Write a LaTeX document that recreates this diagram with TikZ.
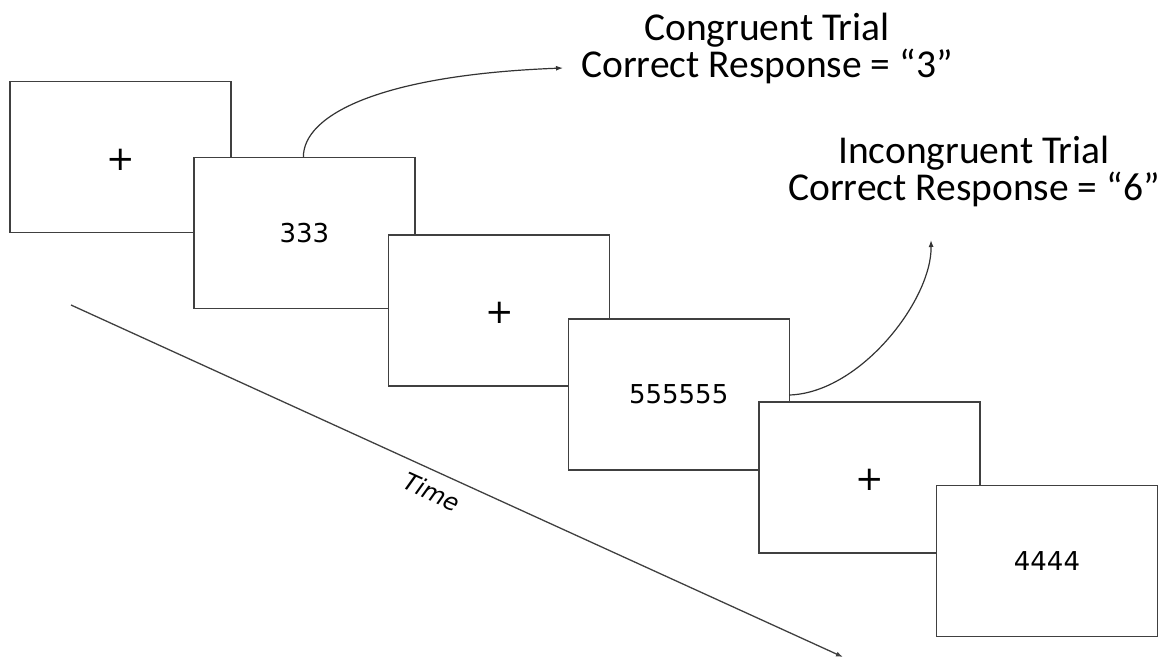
\documentclass[tikz,border=0pt]{standalone}
\usepackage{fontspec}
\setmainfont{Carlito}
\newfontfamily\digitfont{DejaVu Sans}
\usetikzlibrary{arrows.meta}

\tikzset{
  screen/.style={draw=black!75, line width=1.3pt, fill=white,
    minimum width=221pt, minimum height=151pt, inner sep=0pt, outer sep=0pt},
  stimtext/.style={font=\digitfont\fontsize{26}{30}\selectfont},
  fixtext/.style={font=\digitfont\fontsize{34}{36}\selectfont},
  respline/.style={draw=black!80, line width=1.2pt,
    -{Latex[length=7pt,width=5pt]}},
  label/.style={align=center, inner sep=0pt,
    font=\fontsize{39.5}{37}\selectfont},
}

\begin{document}
\begin{tikzpicture}[x=1pt, y=-1pt]
  \useasboundingbox (0,0) rectangle (1168,659);

  % time axis
  \coordinate (tstart) at (71,305);
  \coordinate (tend) at (843,657);
  \draw[draw=black!75, line width=1.3pt, -{Latex[length=7pt,width=5pt]}] (tstart) -- (tend);
  \node[font=\digitfont\itshape\fontsize{24}{26}\selectfont, rotate=-24.4]
    (time) at (432,492) {Time};

  % sequence of screens
  \node[screen] (s1) at (120.5,156.7) {};
  \node[fixtext] at (121,160) {+};
  \node[screen] (s2) at (304.4,232.7) {};
  \node[stimtext] at (s2) {333};
  \node[screen] (s3) at (499.2,310.5) {};
  \node[fixtext] at (500,313) {+};
  \node[screen] (s4) at (678.7,394.5) {};
  \node[stimtext] at (s4) {555555};
  \node[screen] (s5) at (869.4,477.5) {};
  \node[fixtext] at (870,480) {+};
  \node[screen] (s6) at (1047,560.9) {};
  \node[stimtext] at (s6) {4444};

  % response labels (anchored at the baseline of the second line)
  \node[label, anchor=base] (cong) at (767,77)
    {Congruent Trial\\Correct Response = “3”};
  \node[label, anchor=base] (incong) at (974,200)
    {Incongruent Trial\\Correct Response = “6”};

  % arrows from stimuli to the correct responses
  \coordinate (c1) at (563,68);
  \coordinate (c2) at (931,240);
  \draw[respline] ([xshift=-1pt]s2.north) .. controls (303,115) and (380,75) .. (c1);
  \draw[respline] ([yshift=-0.5pt]s4.east) .. controls (860,393) and (932,300) .. (c2);
\end{tikzpicture}
\end{document}
